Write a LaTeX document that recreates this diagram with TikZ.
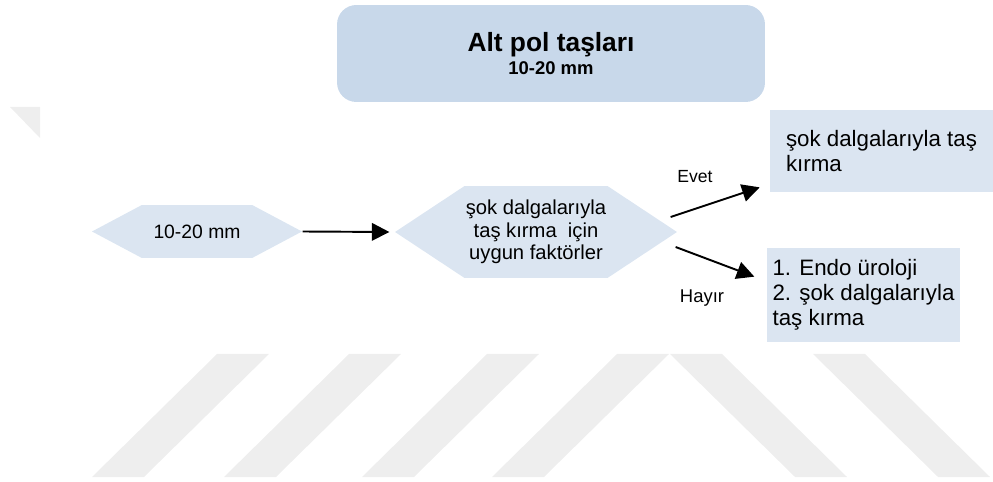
\documentclass[tikz,border=0pt]{standalone}
\usepackage{fontspec}
\setmainfont{Liberation Sans}
\usetikzlibrary{arrows.meta,shapes.symbols}
\definecolor{titlefill}{HTML}{C8D8EA}
\definecolor{boxfill}{HTML}{DBE5F1}
\definecolor{markgray}{HTML}{EEEEEE}
\tikzset{
  hexbox/.style={signal, signal to=west and east, fill=boxfill, inner sep=0pt},
  sidebox/.style={fill=boxfill, align=left, font=\fontsize{12.7}{14.2}\selectfont},
  arr/.style={-{Triangle[length=10pt,width=10pt]}, line width=1.1pt}
}
\begin{document}
\begin{tikzpicture}[x=0.02cm,y=-0.02cm]
    \useasboundingbox (0,0) rectangle (993,482);
    % watermark
    \fill[markgray] (10,107)--(40,107)--(40,138)--cycle;
    \foreach \x in {217,349,487,617}
      \fill[markgray] (\x,354)--(\x+52,354)--(\x-73,477)--(\x-125,477)--cycle;
    \foreach \x in {670,813}
      \fill[markgray] (\x,354)--(\x+52,354)--(\x+177,477)--(\x+125,477)--cycle;
    % title
    \node[fill=titlefill, rounded corners=11pt, minimum width=8.56cm, minimum height=1.94cm, align=center,
      font=\bfseries\fontsize{15}{13}\selectfont] (title) at (551,53.5)
      {Alt pol taşları\\{\fontsize{10.5}{13}\selectfont 10-20 mm}};
    % hexagons
    \node[hexbox, minimum width=4.2cm, minimum height=1.06cm, signal pointer angle=56,
      font=\fontsize{11}{13}\selectfont] (size) at (197,231.5) {10-20 mm};
    \node[hexbox, minimum width=5.64cm, minimum height=1.84cm, signal pointer angle=67, align=center,
      font=\fontsize{11.5}{12.8}\selectfont] (factors) at (536,232)
      {şok dalgalarıyla\\taş kırma\ \ için\\uygun faktörler};
    % answers
    \node[sidebox, minimum width=4.46cm, minimum height=1.64cm] (evet) at (881.5,151)
      {şok dalgalarıyla taş\\kırma};
    \node[sidebox, minimum width=3.74cm, minimum height=1.88cm] (hayir) at (863.5,295)
      {1. Endo üroloji\\2. şok dalgalarıyla\\taş kırma};
    \node[font=\fontsize{10}{12}\selectfont] (yes) at (695,177) {Evet};
    \node[font=\fontsize{10.5}{12}\selectfont] (no) at (702,298) {Hayır};
    % arrows
    \draw[arr] (size.east) -- ([shift={(-5,0)}]factors.west);
    \draw[arr] ([shift={(-7,-15)}]factors.east) -- ([shift={(-10,-5)}]evet.south west);
    \draw[arr] ([shift={(-2,15)}]factors.east) -- ([shift={(-12,29)}]hayir.north west);
\end{tikzpicture}
\end{document}
